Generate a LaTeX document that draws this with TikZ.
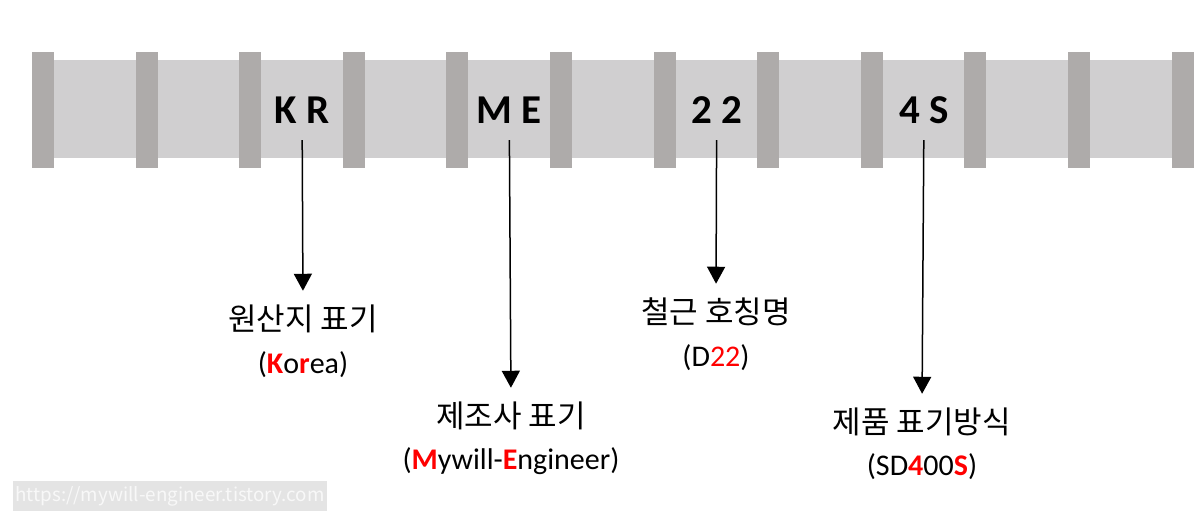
\documentclass[tikz,border=0pt]{standalone}
\usepackage{fontspec}
\setmainfont{Carlito}
\newfontfamily\krfont{Noto Sans CJK KR}
\usetikzlibrary{arrows.meta,positioning}
\definecolor{bandgray}{RGB}{208,207,208}
\definecolor{tickgray}{RGB}{174,171,170}
\definecolor{hilite}{RGB}{255,0,0}
\definecolor{wmbox}{RGB}{228,228,228}
\definecolor{wmtext}{RGB}{248,248,248}

\tikzset{
  code/.style={font=\fontsize{41}{48}\selectfont\bfseries, minimum height=60pt, inner sep=0pt},
  title/.style={font=\krfont\fontsize{31}{36}\selectfont, inner sep=0pt},
  sub/.style={font=\fontsize{30}{34}\selectfont, inner sep=0pt},
  arr/.style={line width=1.5pt, -{Triangle[width=18pt,length=17pt]}, shorten >=14pt},
}
\newcommand{\hl}[1]{\textcolor{hilite}{\textbf{#1}}}

\begin{document}
\begin{tikzpicture}[x=1pt, y=-1pt]
  \useasboundingbox (0,0) rectangle (1203,518);

  % Bar band
  \fill[bandgray] (32,60) rectangle (1194,158);
  \foreach \i in {0,...,11} {
    \fill[tickgray] ({32+103.6*\i},52) rectangle ++(22,116);
  }

  % Codes on the bar
  \node[code] (kr) at (302.2,110) {K R};
  \node[code] (me) at (509.4,110) {M E};
  \node[code] (nm) at (716.6,110) {2 2};
  \node[code] (gr) at (923.8,110) {4 S};

  % Origin
  \node[title] (krT) at (303,319) {원산지 표기};
  \node[sub] (krS) at (303,365) {(\hl{K}o\hl{r}ea)};
  \draw[arr] (kr.south) -- (krT.north);

  % Maker
  \node[title] (meT) at (511,416) {제조사 표기};
  \node[sub] (meS) at (511,461) {(\hl{M}ywill-\hl{E}ngineer)};
  \draw[arr] (me.south) -- (meT.north);

  % Nominal size
  \node[title] (nmT) at (716,312) {철근 호칭명};
  \node[sub] (nmS) at (716,358) {(D\textcolor{hilite}{22})};
  \draw[arr] (nm.south) -- (nmT.north);

  % Grade
  \node[title] (grT) at (922,422) {제품 표기방식};
  \node[sub] (grS) at (922,467) {(SD\hl{4}00\hl{S})};
  \draw[arr] (gr.south) -- (grT.north);

  % Watermark
  \node[fill=wmbox, text=wmtext, font=\krfont\fontsize{18.8}{22}\selectfont,
    minimum width=314pt, minimum height=30pt, inner sep=0pt] (wm) at (170,496)
    {https://mywill-engineer.tistory.com};
\end{tikzpicture}
\end{document}
